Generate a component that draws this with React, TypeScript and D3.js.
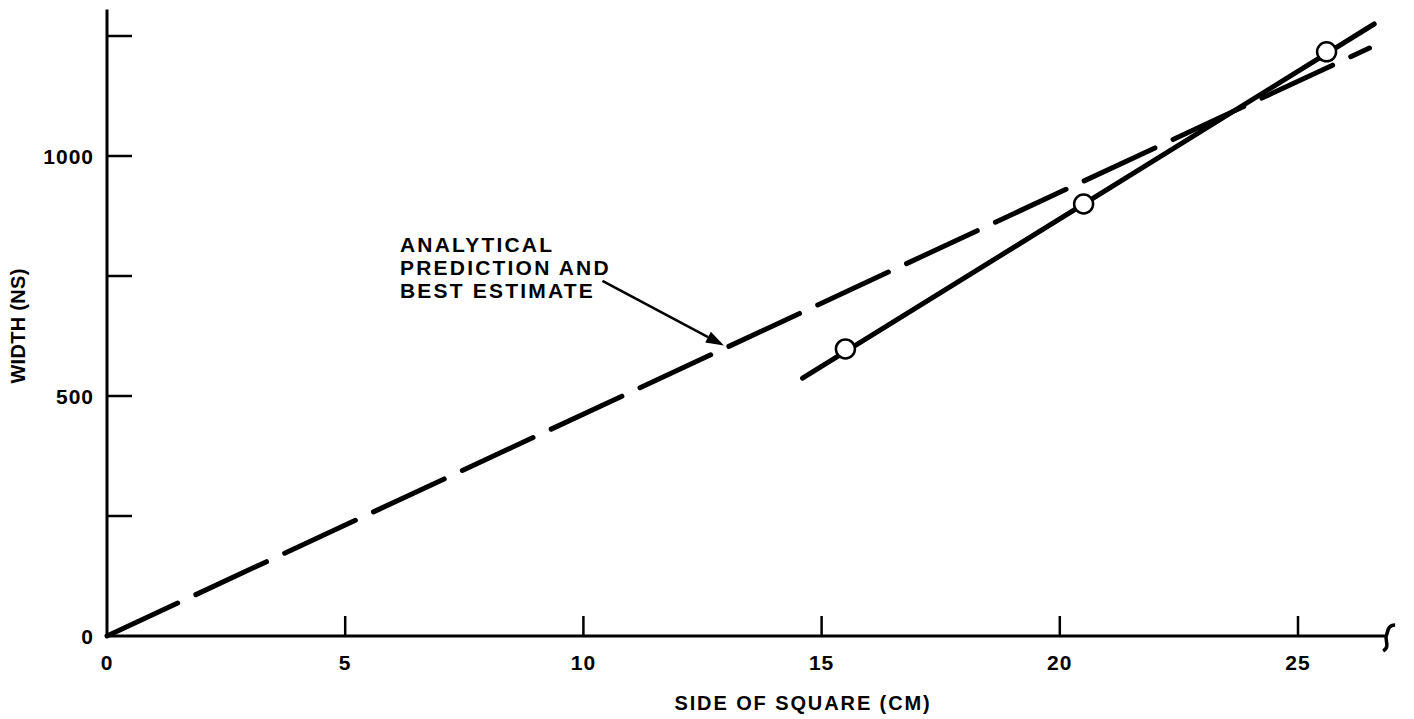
import React from "react";
import * as d3 from "d3";

const xTicks = [0, 5, 10, 15, 20, 25];
const yTicks = [0, 250, 500, 750, 1000, 1250];
const yTickLabels = [0, 500, 1000];
const measuredX = [15.5, 20.5, 25.6];
const measuredY = [598, 900, 1217];
const fitLineX = [14.6, 26.6];
const fitLineY = [537, 1275];
const predictionX = [0, 26.5];
const predictionY = [0, 1225];
const arrowFrom = [10.4, 740];
const arrowTo = [12.95, 605];
const annotationLines = ["ANALYTICAL", "PREDICTION AND", "BEST ESTIMATE"];
const annotationAt = [6.15, 800];
const xTitle = "SIDE OF SQUARE (CM)";
const yTitle = "WIDTH (NS)";
const xMax = 26.85;
const yMax = 1305;

const W = 1414;
const H = 719;
const FONT = "'Liberation Sans', Arial, sans-serif";

export default function App() {
  const x = d3.scaleLinear().domain([0, 25]).range([107, 1298]);
  const y = d3.scaleLinear().domain([0, 1000]).range([636, 156]);
  const line = d3.line<[number, number]>().x((d) => x(d[0])).y((d) => y(d[1]));

  const fitPts: [number, number][] = fitLineX.map((v, i) => [v, fitLineY[i]]);
  const predPts: [number, number][] = predictionX.map((v, i) => [v, predictionY[i]]);

  const ax0 = x(arrowFrom[0]), ay0 = y(arrowFrom[1]);
  const ax1 = x(arrowTo[0]), ay1 = y(arrowTo[1]);
  const ang = Math.atan2(ay1 - ay0, ax1 - ax0);
  const hl = 18, hw = 6;
  const bx = ax1 - hl * Math.cos(ang), by = ay1 - hl * Math.sin(ang);
  const px = -Math.sin(ang), py = Math.cos(ang);
  const head = `M${ax1},${ay1} L${bx + px * hw},${by + py * hw} L${bx - px * hw},${by - py * hw} Z`;

  const x0 = x(0), y0 = y(0);
  const xEnd = x(xMax);

  return (
    <svg width={W} height={H} style={{ position: "absolute", left: 0, top: 0, background: "#fff" }}>
      <rect width={W} height={H} fill="#fff" />
      {/* axes */}
      <line x1={x0} y1={y(yMax)} x2={x0} y2={y0 + 1.5} stroke="#000" strokeWidth={3} />
      <line x1={x0 - 1.5} y1={y0} x2={xEnd} y2={y0} stroke="#000" strokeWidth={3} />
      <path
        d={`M${xEnd + 9},${y0 - 11} C${xEnd + 1},${y0 - 11} ${xEnd + 2},${y0 - 4} ${xEnd},${y0} C${xEnd - 1},${y0 + 5} ${xEnd + 4},${y0 + 11} ${xEnd - 3},${y0 + 15}`}
        fill="none"
        stroke="#000"
        strokeWidth={3.5}
      />
      {xTicks.slice(1).map((t) => (
        <line key={"xt" + t} x1={x(t)} x2={x(t)} y1={y0} y2={y0 - 20} stroke="#000" strokeWidth={2.5} />
      ))}
      {yTicks.slice(1).map((t) => (
        <line key={"yt" + t} x1={x0} x2={x0 + 25} y1={y(t)} y2={y(t)} stroke="#000" strokeWidth={2.5} />
      ))}
      {xTicks.map((t) => (
        <text key={"xl" + t} x={x(t)} y={670} textAnchor="middle" fontFamily={FONT} fontSize={21} fontWeight="bold" letterSpacing={1}>
          {t}
        </text>
      ))}
      {yTickLabels.map((t) => (
        <text key={"yl" + t} x={94} y={y(t) + 8} textAnchor="end" fontFamily={FONT} fontSize={21} fontWeight="bold" letterSpacing={1}>
          {t}
        </text>
      ))}
      <text x={803} y={710} textAnchor="middle" fontFamily={FONT} fontSize={20} fontWeight="bold" letterSpacing={1.9}>
        {xTitle}
      </text>
      <text
        transform={`translate(25,326) rotate(-90)`}
        textAnchor="middle"
        fontFamily={FONT}
        fontSize={20}
        fontWeight="bold"
        letterSpacing={0.3}
      >
        {yTitle}
      </text>

      {/* prediction dashed line */}
      <path d={line(predPts) || ""} fill="none" stroke="#000" strokeWidth={5} strokeDasharray="78 20" strokeLinecap="round" />
      {/* measured fit line */}
      <path d={line(fitPts) || ""} fill="none" stroke="#000" strokeWidth={5} strokeLinecap="round" />
      {measuredX.map((v, i) => (
        <circle key={"pt" + i} cx={x(v)} cy={y(measuredY[i])} r={9.5} fill="#fff" stroke="#000" strokeWidth={2.5} />
      ))}

      {/* annotation */}
      {annotationLines.map((s, i) => (
        <text key={"an" + i} x={x(annotationAt[0])} y={y(annotationAt[1]) + 23 * i} fontFamily={FONT} fontSize={21} fontWeight="bold" letterSpacing={2.2}>
          {s}
        </text>
      ))}
      <line x1={ax0} y1={ay0} x2={bx} y2={by} stroke="#000" strokeWidth={2.5} />
      <path d={head} fill="#000" />
    </svg>
  );
}
